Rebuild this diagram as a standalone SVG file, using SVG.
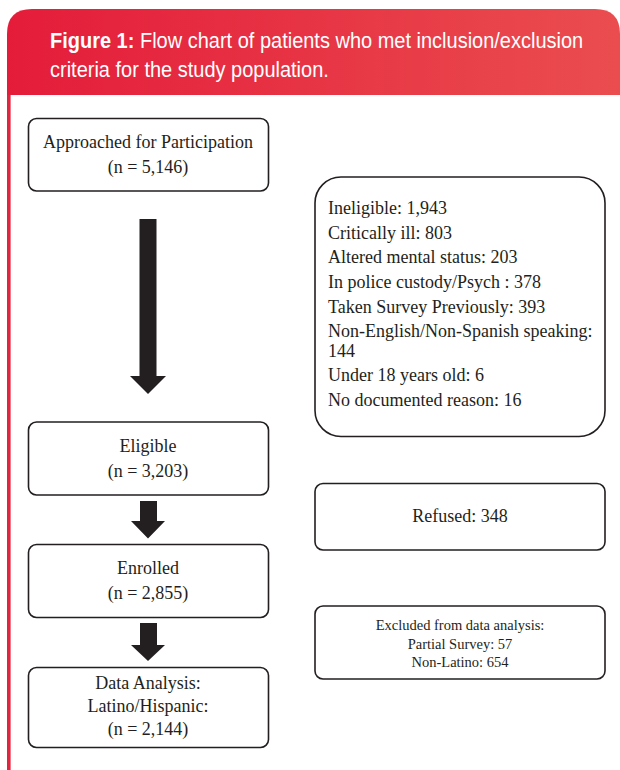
<svg xmlns="http://www.w3.org/2000/svg" width="620" height="770" viewBox="0 0 620 770">
<defs>
<linearGradient id="hdr" x1="0" y1="0" x2="1" y2="0">
<stop offset="0" stop-color="#e41c3a"/>
<stop offset="1" stop-color="#ea4d4f"/>
</linearGradient>
</defs>
<style>
.box{fill:#fff;stroke:#231f20;stroke-width:1.6}
.t{font-family:"Liberation Serif","DejaVu Serif",serif;font-size:18px;fill:#231f20}
.c{text-anchor:middle}
.s{font-size:14.5px}
.arr{fill:#231f20}
.ttl{font-family:"Liberation Sans",Arial,sans-serif;font-size:20px;fill:#fff}
</style>
<rect x="0" y="0" width="620" height="770" fill="#fff"/>
<g id="header">
<path d="M7,95 V34 Q7,9 32,9 H595 Q620,9 620,34 V95 Z" fill="url(#hdr)"/>
<rect x="7" y="95" width="3.6" height="675" fill="#e2243f"/>
<text class="ttl" transform="translate(50,48) scale(1,1.12)"><tspan font-weight="bold">Figure 1:</tspan> Flow chart of patients who met inclusion/exclusion</text>
<text class="ttl" transform="translate(50,77) scale(1,1.12)">criteria for the study population.</text>
</g>
<g id="connectors">
<path class="arr" d="M139.5,219 H156.5 V376 H166 L148,394 L130,376 H139.5 Z"/>
<path class="arr" d="M140,501 H157 V521 H165 L148,538.5 L131,521 H140 Z"/>
<path class="arr" d="M140,623 H157 V645 H165 L148,661 L131,645 H140 Z"/>
</g>
<g id="approached">
<rect class="box" x="28.5" y="118.5" width="240" height="72.5" rx="8"/>
<text class="t c" x="148" y="148">Approached for Participation</text>
<text class="t c" x="148" y="172.5">(n = 5,146)</text>
</g>
<g id="ineligible">
<rect class="box" x="315" y="177" width="290" height="259.5" rx="26"/>
<text class="t" x="328" y="214">Ineligible: 1,943</text>
<text class="t" x="328" y="238.5">Critically ill: 803</text>
<text class="t" x="328" y="263">Altered mental status: 203</text>
<text class="t" x="328" y="288">In police custody/Psych : 378</text>
<text class="t" x="328" y="312.5">Taken Survey Previously: 393</text>
<text class="t" x="328" y="337">Non-English/Non-Spanish speaking:</text>
<text class="t" x="328" y="357">144</text>
<text class="t" x="328" y="381">Under 18 years old: 6</text>
<text class="t" x="328" y="406">No documented reason: 16</text>
</g>
<g id="eligible">
<rect class="box" x="28.5" y="422" width="240" height="73" rx="8"/>
<text class="t c" x="148" y="452">Eligible</text>
<text class="t c" x="148" y="477">(n = 3,203)</text>
</g>
<g id="refused">
<rect class="box" x="315" y="483.5" width="290" height="66.5" rx="8"/>
<text class="t c" x="460" y="522">Refused: 348</text>
</g>
<g id="enrolled">
<rect class="box" x="28.5" y="544.5" width="240" height="73" rx="8"/>
<text class="t c" x="148" y="574">Enrolled</text>
<text class="t c" x="148" y="599">(n = 2,855)</text>
</g>
<g id="excluded">
<rect class="box" x="315" y="606" width="290" height="73" rx="8"/>
<text class="t c s" x="460" y="629.5">Excluded from data analysis:</text>
<text class="t c s" x="460" y="648.5">Partial Survey: 57</text>
<text class="t c s" x="460" y="667">Non-Latino: 654</text>
</g>
<g id="analysis">
<rect class="box" x="28.5" y="667.5" width="240" height="80" rx="8"/>
<text class="t c" x="148" y="688.5">Data Analysis:</text>
<text class="t c" x="148" y="712">Latino/Hispanic:</text>
<text class="t c" x="148" y="735">(n = 2,144)</text>
</g>
</svg>
